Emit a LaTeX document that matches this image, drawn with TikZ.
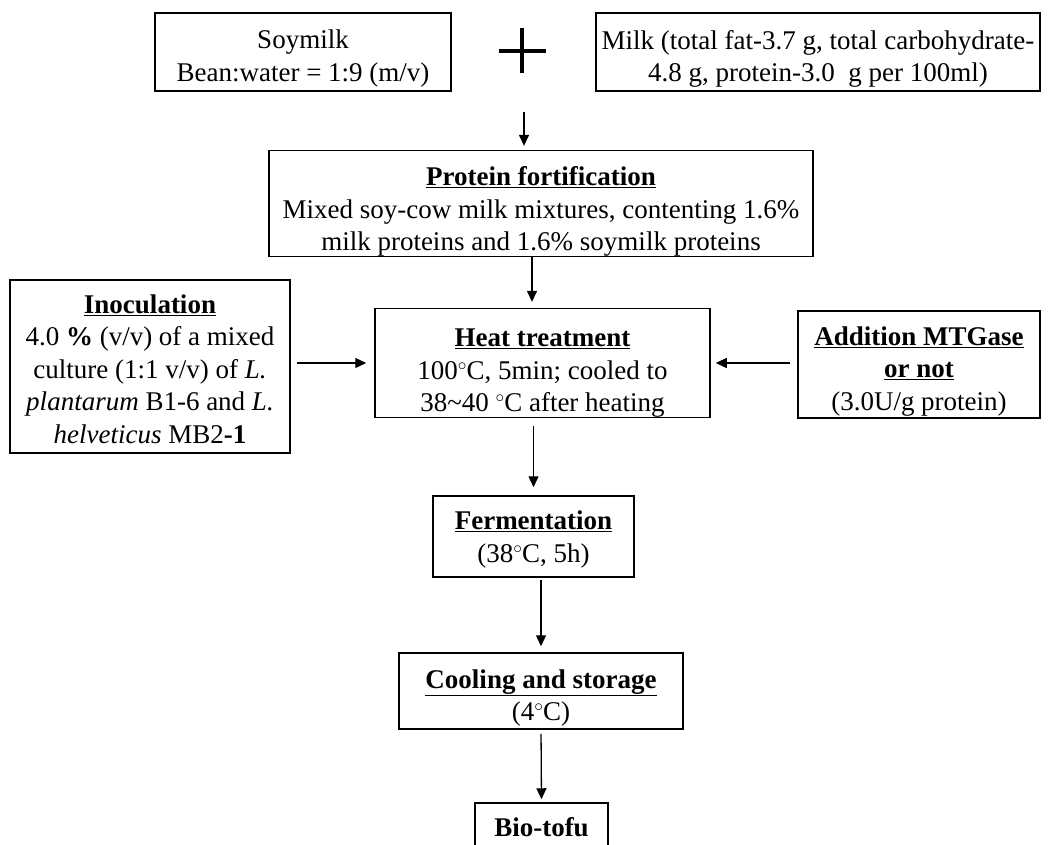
\documentclass[tikz,border=0pt]{standalone}
\usepackage{fontspec}
\setmainfont{Liberation Serif}
\usetikzlibrary{arrows.meta}
\newcommand{\degC}{\ensuremath{^{\circ}}\kern-0.5pt C}
\tikzset{
    >={Triangle[length=11pt, width=10pt]},
    procbox/.style={draw, line width=1.5pt, align=center, inner sep=0pt,
        font=\fontsize{27}{32.5}\selectfont},
    textdown/.style={execute at begin node={\rule{0pt}{#1}}},
    flow/.style={->, line width=1.3pt},
    plussign/.pic={
        \draw[line width=4pt] (-23, 0) -- (24, 0);
        \draw[line width=4pt] (0, -23) -- (0, 22);
    },
}

\begin{document}
\begin{tikzpicture}[x=1pt, y=-1pt]
    \useasboundingbox (0, 0) rectangle (1051, 844);
    \clip (0, 0) rectangle (1051, 844);
    \node[procbox, textdown=64pt, minimum width=296pt, minimum height=78pt] (soy)
        at (303, 52) {Soymilk\\Bean:water = 1:9 (m/v)};
    \pic at (522, 51) {plussign};
    \node[procbox, textdown=65pt, minimum width=444pt, minimum height=78pt] (milk)
        at (818, 52)
        {Milk (total fat-3.7 g, total carbohydrate-\\4.8 g, protein-3.0\ \ g per 100ml)};
    \coordinate (mixout) at (524, 112);
    \node[procbox, textdown=100pt, minimum width=544pt, minimum height=103pt] (protein)
        at (541, 203.5)
        {\textbf{\underline{Protein fortification}}\\
        Mixed soy-cow milk mixtures, contenting 1.6\%\\
        milk proteins and 1.6\% soymilk proteins};
    \node[procbox, textdown=154pt, minimum width=280pt, minimum height=173pt] (inoc)
        at (150, 366.5)
        {\textbf{\underline{Inoculation}}\\
        4.0 \textbf{\%} (v/v) of a mixed\\
        culture (1:1 v/v) of \textit{L.}\\
        \textit{plantarum} B1-6 and \textit{L.}\\
        \textit{helveticus} MB2\textbf{-1}};
    \node[procbox, textdown=103pt, minimum width=335pt, minimum height=104pt] (heat)
        at (542.5, 363)
        {\textbf{\underline{Heat treatment}}\\
        100\degC, 5min; cooled to\\
        38\textasciitilde 40 \degC\ after heating};
    \node[procbox, textdown=97pt, minimum width=242pt, minimum height=107pt] (addit)
        at (919, 364.5)
        {\textbf{\underline{Addition MTGase}}\\
        \textbf{\underline{or not}}\\
        (3.0U/g protein)};
    \node[procbox, textdown=57pt, minimum width=201pt, minimum height=81pt] (ferm)
        at (533.5, 536.5)
        {\textbf{\underline{Fermentation}}\\(38\degC, 5h)};
    \node[procbox, textdown=65pt, minimum width=284pt, minimum height=76pt] (cool)
        at (541, 691)
        {\textbf{\underline{Cooling and storage}}\\(4\degC)};
    \node[procbox, minimum width=133pt, minimum height=48pt] (bio) at (541.5, 827)
        {\textbf{Bio-tofu}};
    % arrows
    \draw[flow, shorten >=4pt] (mixout) -- (mixout |- protein.north);
    \draw[flow, shorten >=6pt] ([xshift=-9pt]protein.south)
        -- ([xshift=-9pt]protein.south |- heat.north);
    \draw[flow, shorten <=6pt, shorten >=8pt] (heat.west -| inoc.east) -- (heat.west);
    \draw[flow, shorten <=7pt, shorten >=5pt] (heat.east -| addit.west) -- (heat.east);
    \draw[flow, shorten <=8pt, shorten >=8pt] (heat.south -| ferm.north) -- (ferm.north);
    \draw[flow, shorten <=2pt, shorten >=6pt] (cool.north |- ferm.south) -- (cool.north);
    \draw[flow, shorten <=4pt, shorten >=3pt] (cool.south) -- (bio.north);
\end{tikzpicture}
\end{document}
